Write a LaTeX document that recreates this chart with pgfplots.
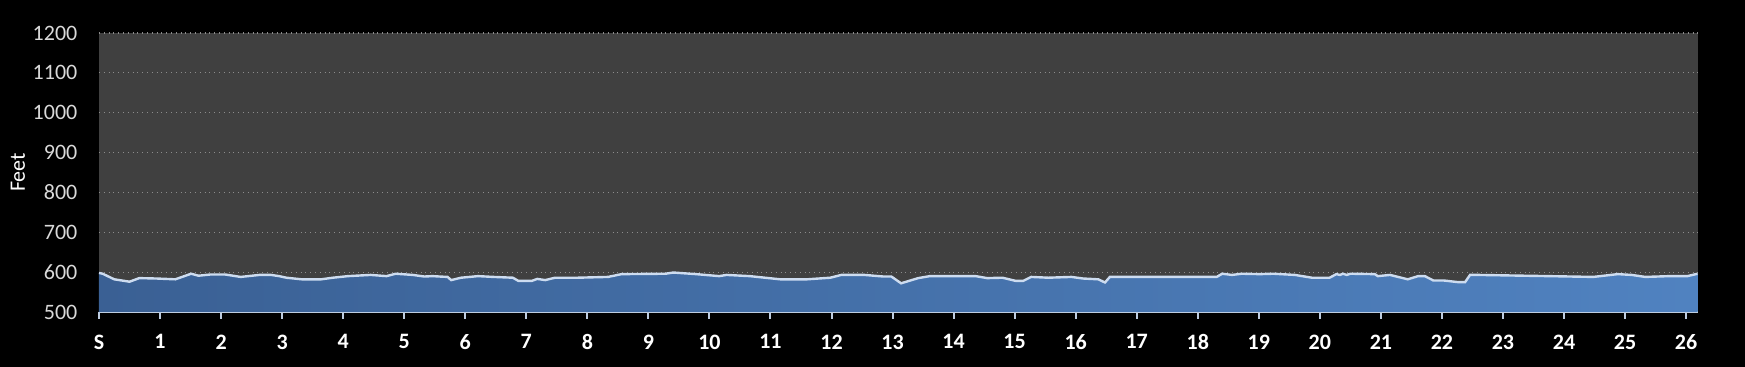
\documentclass[border=0pt]{standalone}
\usepackage{pgfplots}
\usepackage{pgfplotstable}
\pgfplotsset{compat=1.18}
\usepackage{fontspec}
\setmainfont{Carlito}
\definecolor{plotbg}{RGB}{64,64,64}
\definecolor{fillL}{RGB}{58,96,148}
\definecolor{fillR}{RGB}{80,130,192}
\definecolor{linec}{RGB}{205,220,240}
\definecolor{axisc}{RGB}{190,205,225}
\definecolor{ylab}{RGB}{217,217,217}
\definecolor{gridc}{RGB}{140,140,140}

\pgfplotstableread{
mile ft
0 598
0.06 596
0.25 582
0.50 576
0.66 585
0.94 584
1.25 582
1.51 596
1.63 591
1.82 594
2.07 594
2.32 588
2.63 593
2.82 593
2.95 590
3.07 586
3.32 582
3.64 582
3.83 586
4.08 590
4.45 593
4.71 590
4.86 596
5.14 593
5.33 589
5.46 590
5.58 589
5.71 588
5.77 580
5.93 586
6.21 590
6.46 588
6.78 586
6.87 578
7.09 578
7.18 583
7.31 580
7.47 586
7.84 586
8.34 588
8.56 595
9.28 596
9.41 599
9.78 595
10.16 590
10.28 593
10.66 590
11.16 582
11.60 582
11.98 586
12.16 593
12.54 593
12.85 589
12.98 589
13.14 572
13.42 585
13.61 590
14.36 590
14.55 585
14.80 586
15.02 578
15.14 578
15.27 588
15.55 586
15.93 588
16.12 584
16.37 582
16.48 574
16.56 588
18.31 588
18.40 596
18.56 593
18.72 596
19.02 595
19.24 596
19.59 593
19.87 586
20.16 586
20.27 595
20.33 593
20.38 596
20.44 593
20.50 596
20.90 595
20.95 590
21.15 593
21.44 582
21.61 590
21.72 590
21.86 579
22.03 579
22.26 575
22.38 575
22.46 593
22.60 593
23.74 590
24.48 588
24.88 595
25.11 593
25.33 588
25.73 590
26.02 590
26.19 596
}\elev

\begin{document}
\begin{tikzpicture}
\path[use as bounding box, fill=black] (0,0) rectangle (872.5pt,183.5pt);
\begin{axis}[
  at={(49.5pt,27.5pt)}, anchor=south west,
  scale only axis, width=799.35pt, height=139.5pt,
  xmin=0, xmax=26.19, ymin=500, ymax=1200,
  axis background/.style={fill=plotbg},
  axis x line*=bottom, axis y line*=left,
  x axis line style={draw=axisc, line width=1pt, -},
  y axis line style={draw=none},
  xtick={0,1,...,26},
  xticklabels={S,1,2,3,4,5,6,7,8,9,10,11,12,13,14,15,16,17,18,19,20,21,22,23,24,25,26},
  ytick={500,600,...,1200},
  ymajorgrids, major grid style={draw=gridc, dotted, line width=0.6pt},
  tick align=outside,
  major tick length=3.3pt,
  x tick style={draw=axisc, line width=1pt},
  y tick style={draw=none},
  /pgf/number format/assume math mode=true,
  /pgf/number format/1000 sep={},
  xticklabel style={font=\bfseries\fontsize{11}{13}\selectfont, text=white, yshift=-4.5pt},
  yticklabel style={font=\fontsize{11}{13}\selectfont, text=ylab, xshift=-4pt},
  ylabel={Feet},
  every axis y label/.style={at={(axis description cs:-0.0507,0.5)}, rotate=90, anchor=center, font=\fontsize{11}{13}\selectfont, text=white},
]
\addplot[draw=none, left color=fillL, right color=fillR] table[x=mile, y=ft] {\elev} \closedcycle;
\addplot[linec, line width=1.2pt] table[x=mile, y=ft] {\elev};
\end{axis}
\end{tikzpicture}
\end{document}
